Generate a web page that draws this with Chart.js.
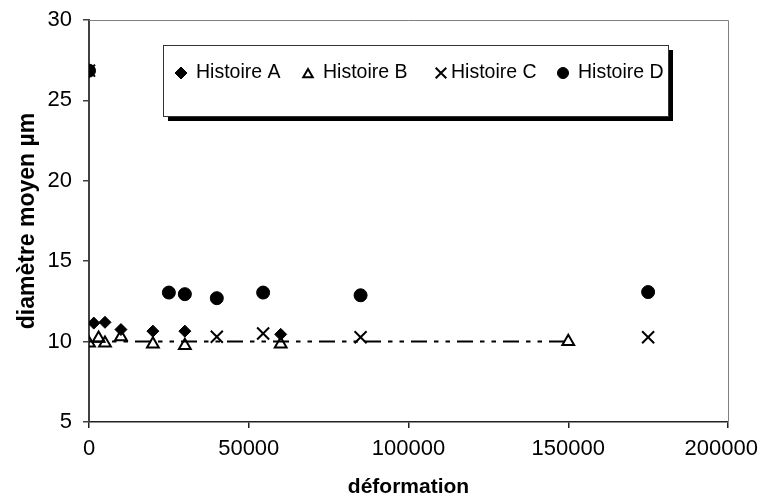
<!DOCTYPE html>
<html><head><meta charset="utf-8">
<script src="https://cdn.jsdelivr.net/npm/chart.js@4"></script>
<style>html,body{margin:0;padding:0;background:#fff}#w{width:763px;height:504px}</style>
</head><body><div id="w"><canvas id="c" width="763" height="504"></canvas></div>
<script>
const seriesNames = ['Histoire A', 'Histoire B', 'Histoire C', 'Histoire D'];
const deformA = [0, 1500, 5000, 10000, 20000, 30000, 60000];
const diamA   = [26.85, 11.15, 11.2, 10.75, 10.65, 10.65, 10.45];
const deformB = [0, 3000, 5000, 10000, 20000, 30000, 60000, 150000];
const diamB   = [9.9, 10.2, 9.9, 10.3, 9.85, 9.75, 9.85, 10.0];
const deformC = [0, 40000, 54500, 85000, 175000];
const diamC   = [26.85, 10.3, 10.5, 10.27, 10.27];
const deformD = [0, 25000, 30000, 40000, 54500, 85000, 175000];
const diamD   = [26.85, 13.05, 12.95, 12.7, 13.05, 12.88, 13.08];
const refLineX = [0, 150000];
const refLineY = [10, 10];
const xTicks = [0, 50000, 100000, 150000, 200000];
const yTicks = [5, 10, 15, 20, 25, 30];
const xTitle = 'déformation';
const yTitle = 'diamètre moyen µm';

const pts = (xs, ys) => xs.map((x, i) => ({x: x, y: ys[i]}));
const xMaxTick = xTicks[xTicks.length - 1];

const frame = {
  id: 'frame',
  beforeDatasetsDraw(chart) {
    const {ctx, chartArea: a} = chart;
    ctx.save();
    ctx.strokeStyle = '#808080';
    ctx.lineWidth = 1;
    ctx.beginPath();
    ctx.moveTo(a.left, a.top + 0.5);
    ctx.lineTo(a.right + 0.5, a.top + 0.5);
    ctx.lineTo(a.right + 0.5, a.bottom);
    ctx.stroke();
    ctx.restore();
  }
};

// last x label is kept inside the canvas (as the spreadsheet does)
const lastLabel = {
  id: 'lastLabel',
  afterDraw(chart) {
    const s = chart.scales.x;
    const items = s.getLabelItems();
    const it = items[items.length - 1];
    if (!it) return;
    const ctx = chart.ctx;
    ctx.save();
    ctx.font = it.font.string;
    ctx.fillStyle = '#000';
    ctx.textAlign = 'center';
    ctx.textBaseline = it.options.textBaseline;
    const txt = String(xMaxTick);
    const w = ctx.measureText(txt).width;
    const px = Math.min(s.getPixelForValue(xMaxTick), chart.width - 5 - w / 2);
    ctx.fillText(txt, px, it.options.translation[1] + it.textOffset);
    ctx.restore();
  }
};

const boxLegend = {
  id: 'boxLegend',
  afterDraw(chart) {
    const ctx = chart.ctx;
    const L = 163, T = 45, W = 505, H = 71, sh = 5;
    ctx.save();
    ctx.fillStyle = '#000';
    ctx.fillRect(L + sh, T + sh, W, H);
    ctx.fillStyle = '#fff';
    ctx.fillRect(L, T, W, H);
    ctx.strokeStyle = '#333';
    ctx.lineWidth = 1;
    ctx.strokeRect(L + 0.5, T + 0.5, W, H);
    const cy = 73;
    const markerX = [181, 308, 441, 563];
    const textX = [196, 323, 451, 578];
    const legR = [6, 5.5, 7.5, 5.5];
    ctx.font = '19.5px "Liberation Sans", Arial, sans-serif';
    ctx.textBaseline = 'middle';
    ctx.textAlign = 'left';
    for (let i = 0; i < 4; i++) {
      const ds = chart.data.datasets[i];
      ctx.save();
      ctx.fillStyle = ds.pointBackgroundColor;
      ctx.strokeStyle = ds.pointBorderColor;
      ctx.lineWidth = ds.pointBorderWidth;
      Chart.helpers.drawPoint(ctx, {pointStyle: ds.pointStyle, radius: legR[i], rotation: 0, borderWidth: ds.pointBorderWidth}, markerX[i], cy + (i === 1 ? 1.5 : 0));
      ctx.restore();
      ctx.fillStyle = '#000';
      ctx.fillText(ds.label, textX[i], cy);
    }
    ctx.restore();
  }
};

const tickFont = {family: '"Liberation Sans", Arial, sans-serif', size: 22};

new Chart(document.getElementById('c'), {
  type: 'scatter',
  data: {
    datasets: [
      {label: seriesNames[0], data: pts(deformA, diamA), pointStyle: 'rectRot', pointRadius: 6,
       pointBackgroundColor: '#000', pointBorderColor: '#000', pointBorderWidth: 1, showLine: false},
      {label: seriesNames[1], data: pts(deformB, diamB), pointStyle: 'triangle', pointRadius: 6.8,
       pointBackgroundColor: 'rgba(255,255,255,0)', pointBorderColor: '#000', pointBorderWidth: 2, showLine: false},
      {label: seriesNames[2], data: pts(deformC, diamC), pointStyle: 'crossRot', pointRadius: 8.5,
       pointBackgroundColor: '#000', pointBorderColor: '#000', pointBorderWidth: 2, showLine: false},
      {label: seriesNames[3], data: pts(deformD, diamD), pointStyle: 'circle', pointRadius: 6.5,
       pointBackgroundColor: '#000', pointBorderColor: '#000', pointBorderWidth: 1, showLine: false},
      {label: '', data: pts(refLineX, refLineY), showLine: true, pointRadius: 0,
       borderColor: '#000', borderWidth: 2, borderDash: [16, 7, 4.5, 7, 4.5, 7], fill: false}
    ]
  },
  options: {
    responsive: false,
    animation: false,
    devicePixelRatio: 1,
    layout: {padding: {top: 20, right: 35, left: 0, bottom: 0}},
    plugins: {legend: {display: false}, tooltip: {enabled: false}},
    scales: {
      x: {
        type: 'linear', min: 0, max: 200000,
        afterBuildTicks: s => { s.ticks = xTicks.map(v => ({value: v})); },
        afterFit: s => { s.height = 82; s.paddingLeft = 0; s.paddingRight = 0; },
        ticks: {font: tickFont, padding: 8, maxRotation: 0, autoSkip: false, callback: v => String(v),
                color: c => (c.tick && c.tick.value === xMaxTick) ? 'rgba(0,0,0,0)' : '#000'},
        grid: {display: true, drawOnChartArea: false, drawTicks: true, tickLength: 6, color: '#222', lineWidth: 1.5},
        border: {display: true, color: '#222', width: 1.5},
        title: {display: true, text: xTitle, color: '#000', font: {family: '"Liberation Sans", Arial, sans-serif', size: 21, weight: 'bold'}, padding: {top: 0, bottom: 4}}
      },
      y: {
        type: 'linear', min: 5, max: 30,
        afterBuildTicks: s => { s.ticks = yTicks.map(v => ({value: v})); },
        afterFit: s => { s.width = 89; s.paddingTop = 0; s.paddingBottom = 0; },
        ticks: {font: tickFont, color: '#000', padding: 11, autoSkip: false, callback: v => String(v)},
        grid: {display: true, drawOnChartArea: false, drawTicks: true, tickLength: 6, color: '#404040', lineWidth: 1.5},
        border: {display: true, color: '#404040', width: 2},
        title: {display: true, text: yTitle, color: '#000', font: {family: '"Liberation Sans", Arial, sans-serif', size: 23, weight: 'bold'}, padding: {top: 14, bottom: 0}}
      }
    }
  },
  plugins: [frame, boxLegend, lastLabel]
});
</script>
</body></html>
